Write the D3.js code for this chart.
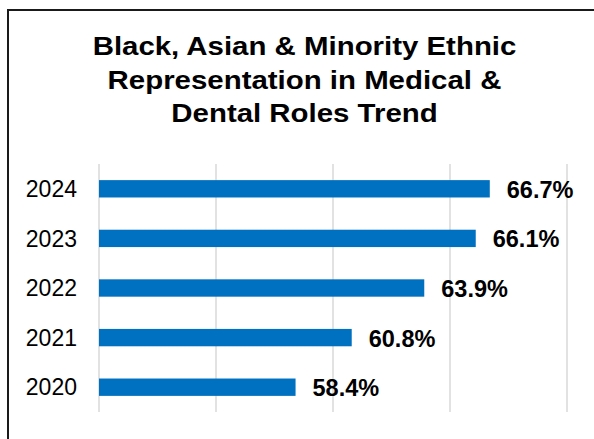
<!DOCTYPE html>
<html>
<head>
<meta charset="utf-8">
<script src="https://cdn.jsdelivr.net/npm/d3@7"></script>
<style>
  html, body { margin: 0; padding: 0; background: #fff; }
  svg { display: block; }
</style>
</head>
<body>
<svg id="chart" width="594" height="439"></svg>
<script>
// BAME share of medical & dental roles, by year
const years = ["2024", "2023", "2022", "2021", "2020"];
const shares = [66.7, 66.1, 63.9, 60.8, 58.4];
const gridTicks = [50, 55, 60, 65, 70];
const titleLines = [
  "Black, Asian & Minority Ethnic",
  "Representation in Medical &",
  "Dental Roles Trend"
];

const svg = d3.select("#chart");
const font = "Arial, 'Liberation Sans', Helvetica, sans-serif";

// outer frame
svg.append("rect")
  .attr("x", 8).attr("y", 10)
  .attr("width", 620).attr("height", 460)
  .attr("fill", "#fff")
  .attr("stroke", "#1a1a1a")
  .attr("stroke-width", 2);

// title (set slightly wide)
svg.append("g")
  .attr("transform", "translate(304.5,0) scale(1.11,1)")
  .append("text")
  .attr("text-anchor", "middle")
  .attr("font-family", font)
  .attr("font-weight", "bold")
  .attr("font-size", 26.5)
  .attr("fill", "#000")
  .selectAll("tspan")
  .data(titleLines)
  .join("tspan")
  .attr("x", 0)
  .attr("y", (d, i) => 55 + i * 33.6)
  .text(d => d);

const x = d3.scaleLinear().domain([50, 70]).range([99, 567]);
const y = d3.scaleBand().domain(years).range([164, 412])
  .paddingInner(0.65).paddingOuter(0.325);

// vertical gridlines
svg.append("g")
  .selectAll("line")
  .data(gridTicks)
  .join("line")
  .attr("x1", d => x(d)).attr("x2", d => x(d))
  .attr("y1", 164).attr("y2", 412)
  .attr("stroke", "#d9d9d9")
  .attr("stroke-width", 1.5);

// bars
svg.append("g")
  .selectAll("rect")
  .data(years)
  .join("rect")
  .attr("x", x(50))
  .attr("y", d => y(d))
  .attr("width", (d, i) => x(shares[i]) - x(50))
  .attr("height", y.bandwidth())
  .attr("fill", "#0070c0");

// year labels
svg.append("g")
  .selectAll("text")
  .data(years)
  .join("text")
  .attr("x", 77)
  .attr("y", d => y(d) + y.bandwidth() / 2)
  .attr("dy", "0.36em")
  .attr("text-anchor", "end")
  .attr("font-family", font)
  .attr("font-size", 23)
  .attr("fill", "#000")
  .text(d => d);

// value labels
svg.append("g")
  .selectAll("text")
  .data(years)
  .join("text")
  .attr("x", (d, i) => x(shares[i]) + 17)
  .attr("y", d => y(d) + y.bandwidth() / 2)
  .attr("dy", "0.38em")
  .attr("font-family", font)
  .attr("font-weight", "bold")
  .attr("font-size", 23.5)
  .attr("fill", "#000")
  .text((d, i) => shares[i].toFixed(1) + "%");
</script>
</body>
</html>
